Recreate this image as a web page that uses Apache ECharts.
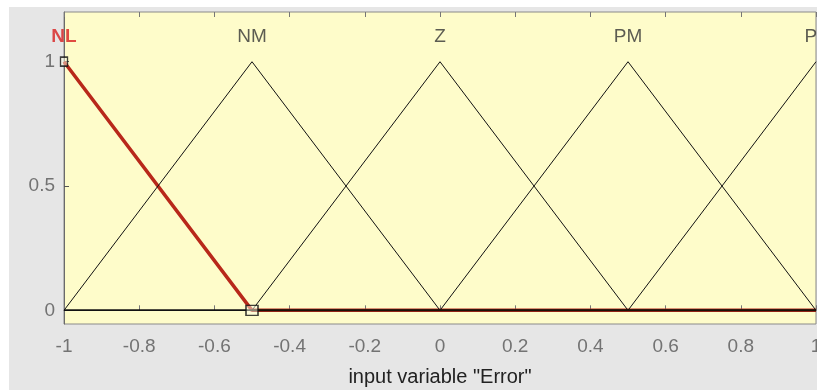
<!DOCTYPE html>
<html>
<head>
<meta charset="utf-8">
<script src="https://cdn.jsdelivr.net/npm/echarts@6/dist/echarts.min.js"></script>
<style>
  html, body { margin: 0; padding: 0; background: #ffffff; }
  #panel { position: absolute; left: 9px; top: 7px; width: 808px; height: 383px; background: #e6e6e6; }
  #chart { position: absolute; left: 0; top: 0; width: 817px; height: 390px; }
</style>
</head>
<body>
<div id="panel"></div>
<div id="chart"></div>
<script>
// Input variable range and its membership functions (triangular: [a, b, c])
const xRange = [-1, 1];
const mfNames = ['NL', 'NM', 'Z', 'PM', 'PL'];
const mfParams = [
  [-1.5, -1, -0.5],
  [-1, -0.5, 0],
  [-0.5, 0, 0.5],
  [0, 0.5, 1],
  [0.5, 1, 1.5]
];
const selectedMf = 0;
const xTicks = [-1, -0.8, -0.6, -0.4, -0.2, 0, 0.2, 0.4, 0.6, 0.8, 1];
const yTicks = [0, 0.5, 1];
const axisName = 'input variable "Error"';

const FONT = 'Liberation Sans, Arial, sans-serif';

function trimf(x, p) {
  const [a, b, c] = p;
  if (x <= a || x >= c) return (x === b) ? 1 : 0;
  if (x <= b) return b === a ? 1 : (x - a) / (b - a);
  return c === b ? 1 : (c - x) / (c - b);
}

// Polyline of a trimf across the whole range: endpoints plus breakpoints inside it
function mfPoints(p) {
  const xs = [xRange[0], ...p.filter(v => v > xRange[0] && v < xRange[1]), xRange[1]];
  return xs.map(x => [x, trimf(x, p)]);
}

const series = [];
// selected mf drawn thick red underneath
series.push({
  type: 'line', data: mfPoints(mfParams[selectedMf]), symbol: 'none', z: 2,
  lineStyle: { color: '#b8281a', width: 3.5 }, animation: false
});
mfParams.forEach((p, i) => {
  if (i === selectedMf) return;
  series.push({
    type: 'line', data: mfPoints(p), symbol: 'none', z: 3,
    lineStyle: { color: '#111', width: 1 }, animation: false
  });
});
// baseline from the selected mf foot across to the right end
series.push({
  type: 'line', data: [[mfParams[selectedMf][2], 0], [xRange[1], 0]], symbol: 'none', z: 4,
  lineStyle: { color: '#1a1208', width: 2 }, animation: false
});
series.push({
  type: 'line', data: [[xRange[0], 0], [mfParams[selectedMf][2], 0]], symbol: 'none', z: 4,
  lineStyle: { color: '#111', width: 1.5 }, animation: false
});
// mf names above the peaks
series.push({
  type: 'scatter', symbolSize: 0, clip: false, z: 5, animation: false,
  data: mfNames.map((n, i) => ({
    value: [mfParams[i][1], 1.1],
    label: {
      show: true, position: 'inside', formatter: n,
      color: i === selectedMf ? '#d81e1e' : '#333',
      fontWeight: i === selectedMf ? 'bold' : 'normal',
      fontSize: 19, fontFamily: FONT
    }
  }))
});
// handles of the selected mf
const sp = mfParams[selectedMf];
series.push({
  type: 'scatter', clip: false, z: 6, animation: false, symbol: 'rect',
  data: [
    { value: [sp[1], 1], symbolSize: [7, 9] },
    { value: [sp[2], 0], symbolSize: [12, 10] }
  ],
  itemStyle: { color: 'rgba(255,255,230,0.6)', borderColor: '#111', borderWidth: 1.5 }
});

const fmt = v => String(parseFloat(v.toFixed(1)));
const labelFont = { color: '#737373', fontSize: 19, fontFamily: FONT };

const chart = echarts.init(document.getElementById('chart'));
chart.setOption({
  backgroundColor: 'transparent',
  animation: false,
  grid: {
    left: 64, top: 12, right: 1, bottom: 66, outerBoundsMode: 'none',
    show: true, backgroundColor: '#fefcca', borderColor: '#8a8a8a', borderWidth: 1
  },
  xAxis: [{
    type: 'value', min: xRange[0], max: xRange[1], interval: 0.2,
    axisLine: { show: false },
    axisTick: { show: true, inside: true, length: 5, lineStyle: { color: '#777' } },
    axisLabel: Object.assign({ margin: 13, formatter: fmt, showMaxLabel: true }, labelFont),
    splitLine: { show: false },
    name: axisName, nameLocation: 'middle', nameGap: 43,
    nameTextStyle: { color: '#222', fontSize: 20, fontFamily: FONT }
  }, {
    type: 'value', position: 'top', min: xRange[0], max: xRange[1], interval: 0.2,
    axisLine: { show: false },
    axisTick: { show: true, inside: true, length: 5, lineStyle: { color: '#777' } },
    axisLabel: { show: false }, splitLine: { show: false }
  }],
  yAxis: {
    type: 'value', min: -0.055, max: 1.2,
    axisLine: { show: true, onZero: false, lineStyle: { color: '#6a6a6a' } },
    axisTick: { show: true, inside: true, length: 5, customValues: yTicks, lineStyle: { color: '#555' } },
    axisLabel: Object.assign({ margin: 9, customValues: yTicks, formatter: v => String(v) }, labelFont),
    splitLine: { show: false }
  },
  series: series
});
</script>
</body>
</html>
